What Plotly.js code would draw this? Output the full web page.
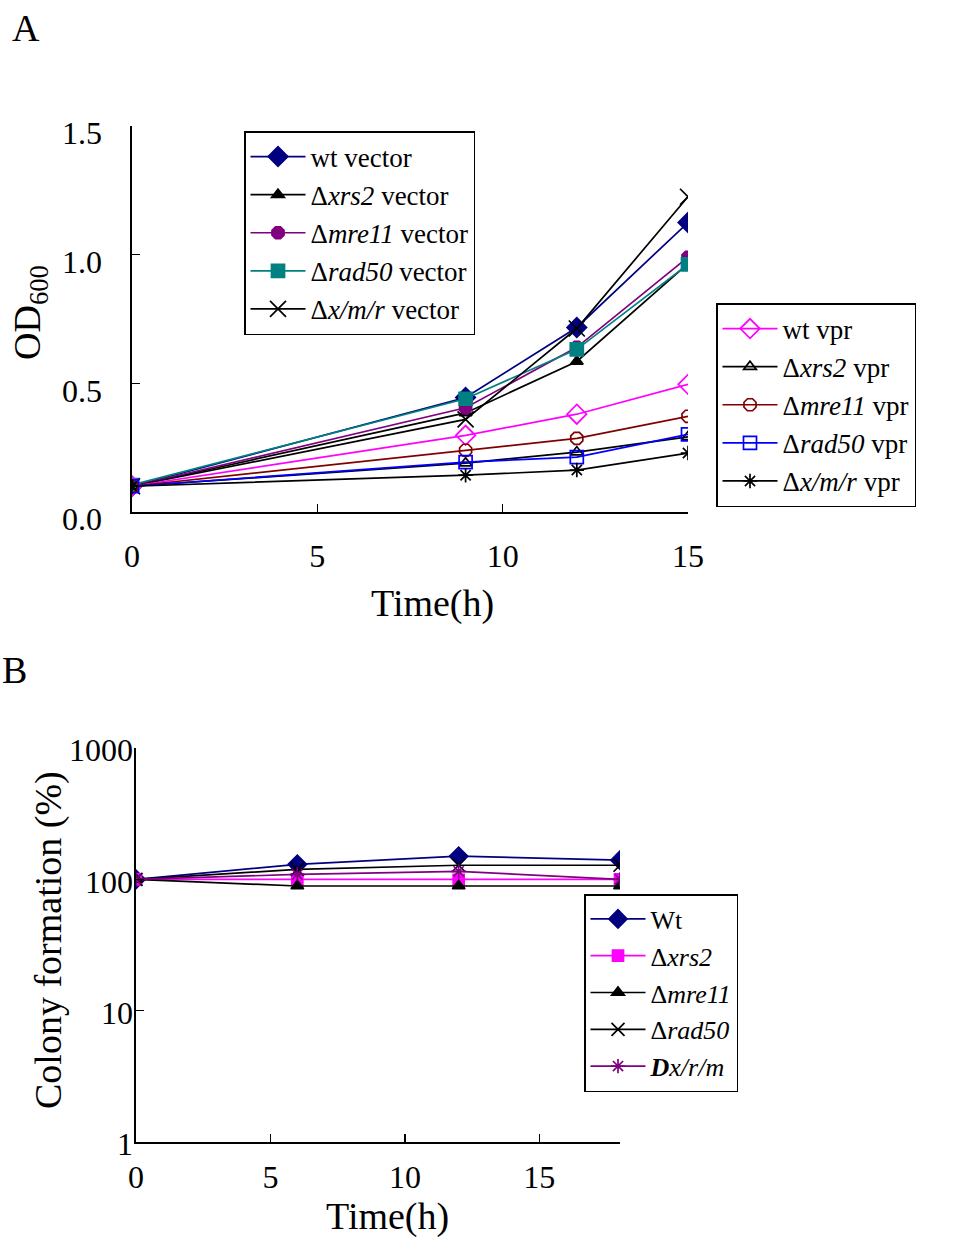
<!DOCTYPE html>
<html>
<head>
<meta charset="utf-8">
<script src="https://cdn.plot.ly/plotly-3.0.1.min.js"></script>
<style>html,body{margin:0;padding:0;background:#fff;}#chart{width:962px;height:1237px;}</style>
</head>
<body>
<div id="chart"></div>
<script>
// ---- Panel A data: OD600 vs time ----
var timeA = [0, 9, 12, 15];
var wtVector    = [0.10, 0.445, 0.717, 1.125];
var xrs2Vector  = [0.10, 0.385, 0.585, 0.965];
var mre11Vector = [0.10, 0.405, 0.640, 0.990];
var rad50Vector = [0.105, 0.440, 0.632, 0.962];
var xmrVector   = [0.10, 0.360, 0.713, 1.225];
var wtVpr    = [0.10, 0.298, 0.380, 0.496];
var xrs2Vpr  = [0.10, 0.190, 0.233, 0.292];
var mre11Vpr = [0.10, 0.240, 0.286, 0.372];
var rad50Vpr = [0.10, 0.194, 0.213, 0.302];
var xmrVpr   = [0.10, 0.143, 0.163, 0.229];
var tickValsA = [0, 0.5, 1.0, 1.5];
var tickTextA = ["0.0", "0.5", "1.0", "1.5"];
var xTicksA = [0, 5, 10, 15];

// ---- Panel B data: colony formation (%) vs time ----
var timeB = [0, 6, 12, 18];
var wtB    = [100, 130, 150, 140];
var xrs2B  = [100, 100, 99, 100];
var mre11B = [100, 89, 89, 89];
var rad50B = [100, 119, 128, 128];
var xrmB   = [100, 109, 115, 100];
var tickValsB = [1, 10, 100, 1000];
var tickTextB = ["1", "10", "100", "1000"];
var xTicksB = [0, 5, 10, 15];

var FONT = "Liberation Serif, Times New Roman, serif";

function tr(x, y, name, color, symbol, size, xa, ya, legend) {
  return {
    x: x, y: y, name: name, type: "scatter", mode: "lines+markers",
    xaxis: xa, yaxis: ya, legend: legend,
    line: {color: color, width: 1.7},
    marker: {color: color, symbol: symbol, size: size, line: {color: color, width: 1.7}}
  };
}

var traces = [
  tr(timeA, wtVector,    "wt vector", "#000080", "diamond", 15, "x", "y", "legend"),
  tr(timeA, xrs2Vector,  "Δ<i>xrs2</i> vector", "#000000", "triangle-up", 11, "x", "y", "legend"),
  tr(timeA, mre11Vector, "Δ<i>mre11</i> vector", "#800080", "octagon", 13, "x", "y", "legend"),
  tr(timeA, rad50Vector, "Δ<i>rad50</i> vector", "#008080", "square", 13, "x", "y", "legend"),
  tr(timeA, xmrVector,   "Δ<i>x/m/r</i> vector", "#000000", "x-thin-open", 16, "x", "y", "legend"),
  tr(timeA, wtVpr,    "wt vpr", "#FF00FF", "diamond-open", 15, "x", "y", "legend2"),
  tr(timeA, xrs2Vpr,  "Δ<i>xrs2</i> vpr", "#000000", "triangle-up-open", 11, "x", "y", "legend2"),
  tr(timeA, mre11Vpr, "Δ<i>mre11</i> vpr", "#800000", "octagon-open", 13, "x", "y", "legend2"),
  tr(timeA, rad50Vpr, "Δ<i>rad50</i> vpr", "#0000FF", "square-open", 13, "x", "y", "legend2"),
  tr(timeA, xmrVpr,   "Δ<i>x/m/r</i> vpr", "#000000", "asterisk-open", 12, "x", "y", "legend2"),
  tr(timeB, wtB,    "Wt", "#000080", "diamond", 14, "x2", "y2", "legend3"),
  tr(timeB, xrs2B,  "Δ<i>xrs2</i>", "#FF00FF", "square", 11, "x2", "y2", "legend3"),
  tr(timeB, mre11B, "Δ<i>mre11</i>", "#000000", "triangle-up", 11, "x2", "y2", "legend3"),
  tr(timeB, rad50B, "Δ<i>rad50</i>", "#000000", "x-thin-open", 13, "x2", "y2", "legend3"),
  tr(timeB, xrmB,   "<b><i>D</i></b><i>x/r/m</i>", "#800080", "asterisk-open", 12, "x2", "y2", "legend3")
];

var axisCommon = {
  showline: true, linecolor: "#000", linewidth: 1.7, mirror: false,
  showgrid: false, zeroline: false, ticks: "inside", ticklen: 8, tickwidth: 1.3, tickcolor: "#000",
  tickfont: {family: FONT, size: 32, color: "#000"}, automargin: false
};

function ax(extra) { return Object.assign({}, axisCommon, extra); }

var legendCommon = {
  bgcolor: "#fff", bordercolor: "#000", borderwidth: 1.5,
  xanchor: "left", yanchor: "top", itemwidth: 55, tracegroupgap: 0,
  itemclick: false, itemdoubleclick: false
};

function ann(text, xpx, ypx, size, extra) {
  return Object.assign({text: text, x: xpx/962, y: 1 - ypx/1237, xref: "paper", yref: "paper",
    xanchor: "center", yanchor: "middle", showarrow: false,
    font: {family: FONT, size: size, color: "#000"}}, extra || {});
}

var layout = {
  width: 962, height: 1237,
  margin: {l: 0, r: 0, t: 0, b: 0},
  paper_bgcolor: "#fff", plot_bgcolor: "#fff",
  font: {family: FONT, color: "#000"},
  xaxis: ax({domain: [132/962, 688/962], range: [0, 15], tickvals: xTicksA, ticktext: xTicksA.map(String),
    anchor: "y", ticklabelstandoff: 15}),
  yaxis: ax({domain: [1 - 512/1237, 1 - 126/1237], range: [0, 1.5], tickvals: tickValsA, ticktext: tickTextA,
    anchor: "x", ticklabelstandoff: 22, ticklabelshift: 7}),
  xaxis2: ax({domain: [136/962, 620/962], range: [0, 18], tickvals: xTicksB, ticktext: xTicksB.map(String),
    anchor: "y2", ticklabelstandoff: 6}),
  yaxis2: ax({domain: [1 - 1142/1237, 1 - 748/1237], type: "log", range: [0, 3], tickvals: tickValsB, ticktext: tickTextB,
    anchor: "x2", ticklabelstandoff: -5, ticklabelshift: 2}),
  legend: Object.assign({}, legendCommon, {x: 244/962, y: 1 - 131/1237, font: {family: FONT, size: 27, color: "#000"}}),
  legend2: Object.assign({}, legendCommon, {x: 716/962, y: 1 - 303/1237, font: {family: FONT, size: 27, color: "#000"}}),
  legend3: Object.assign({}, legendCommon, {x: 584/962, y: 1 - 894/1237, font: {family: FONT, size: 26, color: "#000"}}),
  annotations: [
    ann("A", 10, 28, 38, {xanchor: "left"}),
    ann("B", 0, 670, 38, {xanchor: "left"}),
    ann("Time(h)", 432, 603, 38),
    ann("OD<sub>600</sub>", 30, 313, 38, {textangle: -90}),
    ann("Time(h)", 387, 1216, 38),
    ann("Colony formation (%)", 48, 940, 38, {textangle: -90})
  ],
  showlegend: true
};

Plotly.newPlot("chart", traces, layout, {staticPlot: true, displayModeBar: false});
</script>
</body>
</html>
